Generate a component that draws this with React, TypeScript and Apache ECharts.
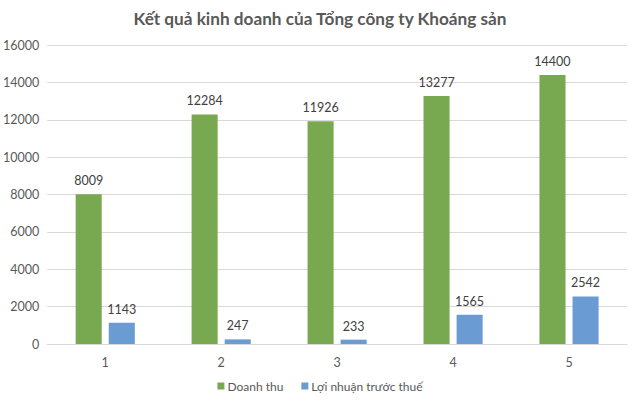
import React, { useEffect, useRef } from "react";
import * as echarts from "echarts";

const categories = ["1", "2", "3", "4", "5"];
const revenue = [8009, 12284, 11926, 13277, 14400];
const profit = [1143, 247, 233, 1565, 2542];
const seriesNames = ["Doanh thu", "Lợi nhuận trước thuế"];
const titleText = "Kết quả kinh doanh của Tổng công ty Khoáng sản";

export default function App() {
  const ref = useRef<HTMLDivElement>(null);
  useEffect(() => {
    if (!ref.current) return;
    const chart = echarts.init(ref.current, null, { renderer: "svg" });
    const font = "Lato, Open Sans, sans-serif";
    chart.setOption({
      animation: false,
      backgroundColor: "#ffffff",
      title: {
        text: titleText,
        left: "center",
        top: 5,
        textStyle: { fontFamily: font, fontSize: 17.2, fontWeight: "bold", color: "#595959" },
      },
      legend: {
        bottom: 6,
        left: "center",
        itemWidth: 7,
        itemHeight: 7,
        itemGap: 18,
        icon: "rect",
        textStyle: { fontFamily: font, fontSize: 12, color: "#595959", padding: [0, 0, 0, -2] },
        data: seriesNames,
      },
      grid: { left: 44, right: 13, top: 45, bottom: 59 },
      xAxis: {
        type: "category",
        data: categories,
        axisLine: { lineStyle: { color: "#d9d9d9" } },
        axisTick: { show: false },
        axisLabel: { fontFamily: font, fontSize: 12.5, color: "#595959", margin: 12 },
      },
      yAxis: {
        type: "value",
        min: 0,
        max: 16000,
        interval: 2000,
        axisLine: { show: false },
        axisTick: { show: false },
        splitLine: { lineStyle: { color: "#d9d9d9" } },
        axisLabel: {
          fontFamily: font,
          fontSize: 12.5,
          color: "#595959",
          margin: 8,
          formatter: (v: number) => String(v),
        },
      },
      series: [
        {
          name: seriesNames[0],
          type: "bar",
          data: revenue,
          barGap: "27%",
          barCategoryGap: "49%",
          itemStyle: { color: "#78A84F" },
          label: { show: true, position: "top", distance: 7, fontFamily: font, fontSize: 12.5, color: "#404040" },
        },
        {
          name: seriesNames[1],
          type: "bar",
          data: profit,
          itemStyle: { color: "#6A9BD2" },
          label: { show: true, position: "top", distance: 7, fontFamily: font, fontSize: 12.5, color: "#404040" },
        },
      ],
    });
    return () => chart.dispose();
  }, []);
  return (
    <div
      ref={ref}
      style={{ position: "fixed", left: 0, top: 0, width: 640, height: 403 }}
    />
  );
}
